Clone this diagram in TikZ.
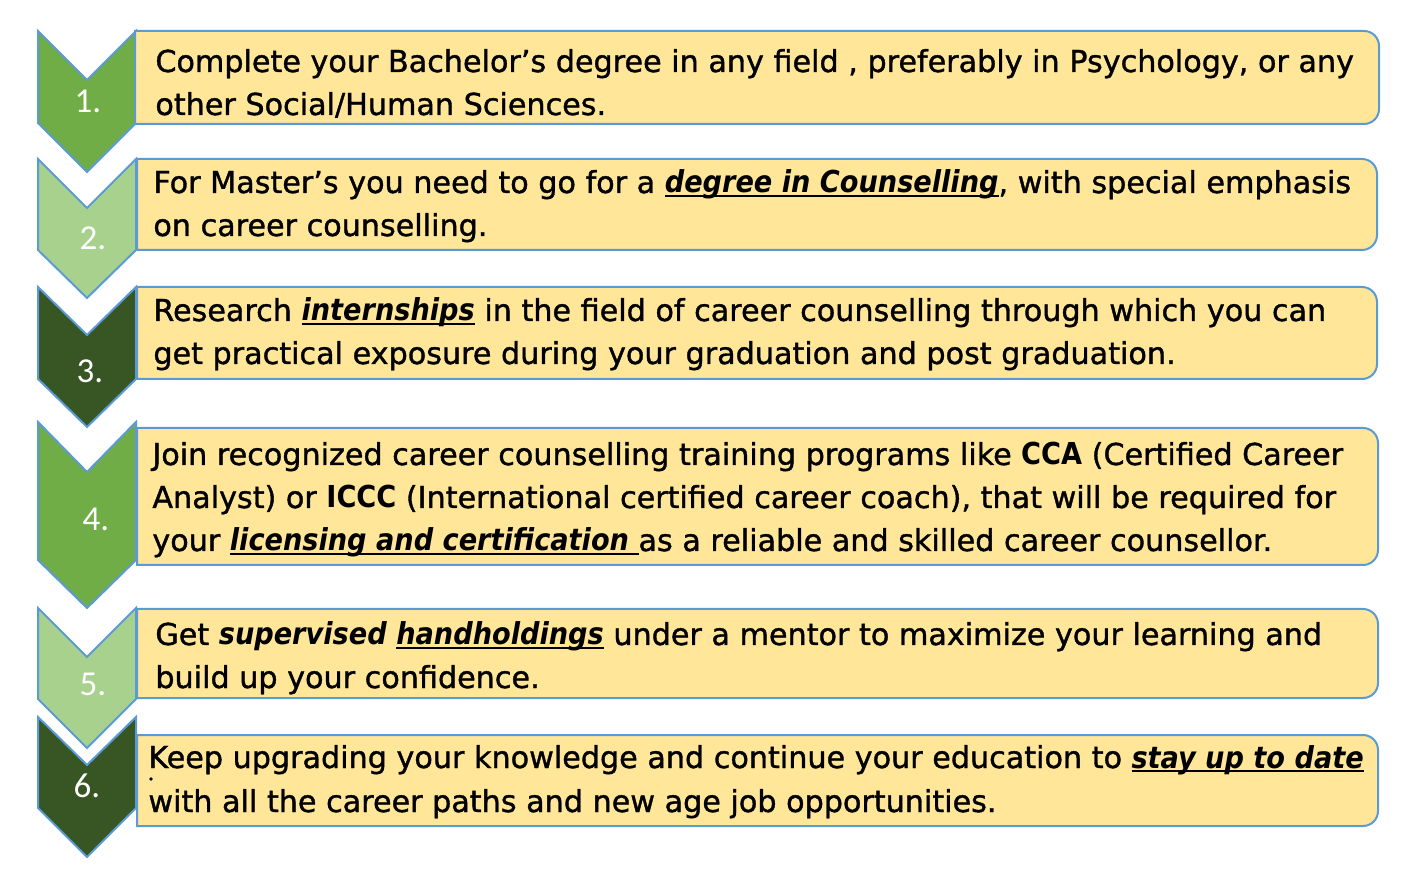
\documentclass[tikz,border=0pt]{standalone}
\usepackage{fontspec}
\setmainfont{DejaVu Sans}[UprightFeatures={FakeBold=1.2}]
\newfontfamily\condfont{DejaVu Sans Condensed}
\newfontfamily\numfont{Carlito}
\definecolor{bord}{HTML}{5B9BD5}
\definecolor{boxfill}{HTML}{FFE699}
\definecolor{gA}{HTML}{70AD47}
\definecolor{gB}{HTML}{A9D18E}
\definecolor{gC}{HTML}{375623}
\newcommand\mychev[5]{%
 \filldraw[fill=#5,draw=bord,line width=1pt] (38,#1) -- (87,#2) -- (136,#1) -- (136,#3) -- (87,#4) -- (38,#3) -- cycle;}
\newcommand\mybox[4]{%
 \filldraw[fill=boxfill,draw=bord,line width=1pt] (#1,#2) -- ({#3-15},#2) arc[start angle=-90,end angle=0,radius=15] -- (#3,{#4-15}) arc[start angle=0,end angle=90,radius=15] -- (#1,#4) -- cycle;}
\newcommand\bi[1]{{\condfont\bfseries\itshape #1}}
\newcommand\bo[1]{{\condfont\bfseries #1}}
\newcommand\ubi[1]{{\setbox0=\hbox{\bi{#1}}\rlap{\rule[-2pt]{\wd0}{1pt}}\box0}}
\tikzset{
 txt/.style={anchor=base west, inner sep=0pt, font=\fontsize{15.1}{21.5}\selectfont},
 num/.style={text=white, inner sep=0pt, font=\numfont\fontsize{17.5}{20}\selectfont}
}
\begin{document}
\begin{tikzpicture}[x=0.5pt,y=-0.5pt]
\useasboundingbox (0,0) rectangle (1423,870);
\mychev{31}{80}{123}{172}{gA}
\mychev{159}{208}{250}{298}{gB}
\mychev{287}{335}{379}{427}{gC}
\mychev{422}{472}{560}{608}{gA}
\mychev{608}{657}{699}{748}{gB}
\mychev{717}{765}{808}{857}{gC}
\mybox{135}{31}{1379}{124}
\mybox{137}{159}{1377}{250}
\mybox{137}{287}{1377}{379}
\mybox{137}{428}{1378}{565}
\mybox{137}{609}{1378}{698}
\mybox{137}{735}{1378}{826}
\node[num] (n1) at (88,101) {1.};
\node[num] (n2) at (93,238) {2.};
\node[num] (n3) at (90,371) {3.};
\node[num] (n4) at (96,519) {4.};
\node[num] (n5) at (93,684) {5.};
\node[num] (n6) at (87,786) {6.};
\node[txt] (t1a) at (155,72) {Complete your Bachelor’s degree in any field , preferably in Psychology, or any};
\node[txt] (t1b) at (155,115) {other Social/Human Sciences.};
\node[txt] (t2a) at (153,193) {For Master’s you need to go for a \ubi{degree in Counselling}, with special emphasis};
\node[txt] (t2b) at (153,236) {on career counselling.};
\node[txt] (t3a) at (153,321) {Research \ubi{internships} in the field of career counselling through which you can};
\node[txt] (t3b) at (153,364) {get practical exposure during your graduation and post graduation.};
\node[txt] (t4a) at (152,465) {Join recognized career counselling training programs like \bo{CCA} (Certified Career};
\node[txt] (t4b) at (152,508) {Analyst) or \bo{ICCC} (International certified career coach), that will be required for};
\node[txt] (t4c) at (152,551) {your \ubi{licensing and certification }as a reliable and skilled career counsellor.};
\node[txt] (t5a) at (155,645) {Get \bi{supervised} \ubi{handholdings} under a mentor to maximize your learning and};
\node[txt] (t5b) at (155,688) {build up your confidence.};
\node[txt] (t6a) at (148,768) {Keep upgrading your knowledge and continue your education to \ubi{stay up to date}};
\node[txt] (t6b) at (148,812) {with all the career paths and new age job opportunities.};
\fill (151,779) circle (1.8);
\end{tikzpicture}
\end{document}
